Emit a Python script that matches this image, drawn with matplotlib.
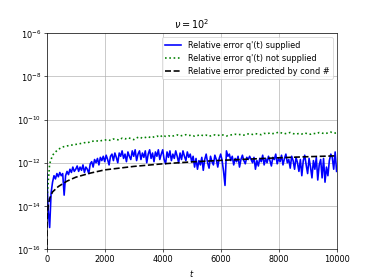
import numpy as np
import matplotlib
matplotlib.use('Agg')
import matplotlib.pyplot as plt

# time grid for the two error series
t_blue = np.arange(0, 10001, 50)
t_green = np.arange(0, 10001, 100)

# log10 of relative error, q'(t) supplied
log_blue = [
    -12.5, -14.2, -15.0, -13.4, -12.9, -12.6, -12.75, -12.5, -12.65, -12.45,
    -12.6, -12.5, -13.5, -12.6, -12.4, -12.55, -12.3, -12.45, -12.2, -12.4,
    -12.3, -12.15, -12.4, -12.2, -12.35, -12.1, -12.45, -12.2, -12.3, -12.5,
    -12.05, -11.95, -12.2, -11.85, -12.0, -11.8, -12.1, -11.75, -11.9, -11.7,
    -11.95, -11.65, -11.85, -12.1, -11.7, -11.6, -11.9, -11.55, -11.75, -12.0,
    -11.55, -11.7, -11.45, -11.8, -11.6, -11.95, -11.5, -11.7, -11.85, -11.45,
    -11.7, -11.4, -11.9, -11.6, -11.45, -11.85, -11.55, -11.75, -11.45, -12.0,
    -11.6, -11.4, -11.8, -11.55, -11.95, -11.5, -11.7, -11.4, -11.85, -11.6,
    -11.4, -11.85, -12.05, -11.5, -11.75, -11.45, -11.9, -11.6, -11.8, -11.45,
    -11.7, -12.0, -11.55, -11.85, -11.45, -11.7, -11.9, -11.5, -11.75, -11.6,
    -11.95, -11.7, -12.2, -11.8, -12.3, -11.9, -12.1, -11.75, -12.35, -11.85,
    -11.6, -12.0, -12.25, -11.7, -11.95, -12.1, -11.65, -11.85, -12.2, -11.8,
    -11.6, -11.9, -12.4, -13.05, -11.45, -11.7, -11.6, -11.9, -11.7, -12.1,
    -11.8, -11.95, -11.7, -12.2, -11.85, -11.65, -11.9, -12.05, -11.75, -11.85,
    -11.7, -11.85, -12.0, -11.75, -12.3, -11.9, -12.15, -11.8, -11.95, -11.65,
    -12.1, -11.8, -12.0, -11.7, -11.9, -12.15, -11.75, -11.85, -11.6, -12.05,
    -11.8, -11.95, -11.65, -12.1, -11.8, -11.6, -12.0, -11.85, -12.25, -11.7,
    -11.9, -12.3, -11.75, -12.0, -12.4, -11.85, -12.6, -11.9, -11.65, -12.1,
    -12.5, -11.8, -12.2, -12.7, -11.9, -12.3, -11.75, -12.8, -12.1, -11.85,
    -12.7, -11.8, -12.9, -12.2, -12.6, -11.9, -11.6, -11.75, -12.3, -11.5,
    -12.4,
]

# log10 of relative error, q'(t) not supplied
log_green = [
    -13.8, -12.05, -11.65, -11.5, -11.38, -11.3, -11.25, -11.22, -11.2, -11.17,
    -11.15, -11.13, -11.1, -11.07, -11.08, -11.03, -11.0, -10.98, -11.01, -10.97,
    -10.95, -10.93, -10.97, -10.9, -10.92, -10.95, -10.86, -10.9, -10.84, -10.88,
    -10.93, -10.85, -10.8, -10.87, -10.83, -10.79, -10.85, -10.8, -10.76, -10.82,
    -10.72, -10.78, -10.75, -10.79, -10.74, -10.71, -10.76, -10.73, -10.7, -10.74,
    -10.72, -10.77, -10.74, -10.7, -10.75, -10.72, -10.78, -10.73, -10.71, -10.74,
    -10.7, -10.72, -10.76, -10.73, -10.7, -10.68, -10.7, -10.69, -10.72, -10.67,
    -10.66, -10.69, -10.65, -10.68, -10.7, -10.64, -10.66, -10.62, -10.65, -10.63,
    -10.58, -10.62, -10.66, -10.63, -10.6, -10.65, -10.68, -10.64, -10.67, -10.62,
    -10.66, -10.68, -10.64, -10.66, -10.6, -10.63, -10.65, -10.62, -10.58, -10.63,
    -10.62,
]

# predicted by condition number
t_black = [0, 10, 20, 50, 100, 200, 400, 700, 1000, 1500, 2000, 3000, 4000,
           5000, 6000, 7000, 8000, 9000, 10000]
log_black = [-17.0, -14.7, -14.4, -14.0, -13.65, -13.35, -13.1, -12.85, -12.67,
             -12.48, -12.33, -12.17, -12.05, -11.96, -11.89, -11.83, -11.77,
             -11.72, -11.68]

fig, ax = plt.subplots(figsize=(6.4, 4.8), dpi=374 / 6.4)
ax.semilogy(t_blue, 10.0 ** np.array(log_blue), 'b-', lw=2,
            label="Relative error q'(t) supplied")
ax.semilogy(t_green, 10.0 ** np.array(log_green), 'g:', lw=2,
            label="Relative error q'(t) not supplied")
ax.semilogy(t_black, 10.0 ** np.array(log_black), 'k--', lw=2,
            label="Relative error predicted by cond #")
ax.set_xlim(0, 10000)
ax.set_ylim(1e-16, 1e-6)
ax.set_yticks([1e-16, 1e-14, 1e-12, 1e-10, 1e-8, 1e-6])
ax.minorticks_off()
ax.grid(True)
ax.set_title(r'$\nu = 10^2$')
ax.set_xlabel(r'$t$')
ax.legend(loc='upper right')
plt.savefig('out.png')
